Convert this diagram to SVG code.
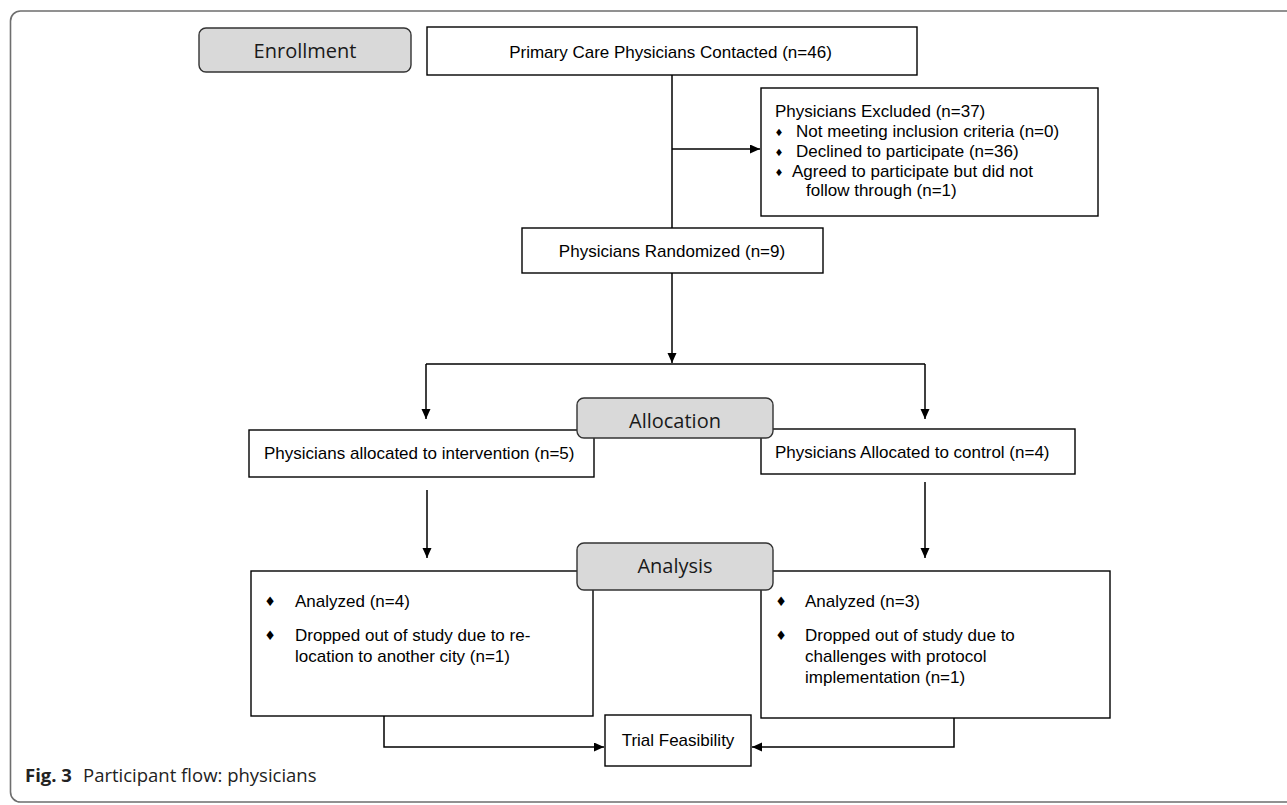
<svg xmlns="http://www.w3.org/2000/svg" width="1287" height="805" viewBox="0 0 1287 805">
<defs>
<marker id="ah" markerUnits="userSpaceOnUse" markerWidth="11" markerHeight="10" refX="10" refY="4.5" orient="auto">
<path d="M0,0 L10,4.5 L0,9 z" fill="#000"/>
</marker>
<style>
.box{fill:#fff;stroke:#000;stroke-width:1.4}
.stage{fill:#d9d9d9;stroke:#333;stroke-width:1.4}
.t{font-family:"Liberation Sans",Arial,sans-serif;font-size:17px;fill:#000}
.st{font-family:"Open Sans","Noto Sans",sans-serif;font-size:20px;fill:#1a1a1a;text-anchor:middle}
.b{font-family:"DejaVu Sans",sans-serif;fill:#000;text-anchor:middle}
.c{fill:none;stroke:#000;stroke-width:1.5}
.cap{font-family:"Open Sans","Noto Sans",sans-serif;font-size:18.5px;fill:#222}
</style>
</defs>
<rect x="10.5" y="11" width="1320" height="791" rx="10" fill="#fff" stroke="#6e6e6e" stroke-width="1.6"/>

<g id="connectors">
<path class="c" d="M672,75 V228"/>
<path class="c" d="M672,149 H760" marker-end="url(#ah)"/>
<path class="c" d="M672,273 V363" marker-end="url(#ah)"/>
<path class="c" d="M426,364 H925"/>
<path class="c" d="M426,364 V419" marker-end="url(#ah)"/>
<path class="c" d="M925,364 V419" marker-end="url(#ah)"/>
<path class="c" d="M427,490 V558" marker-end="url(#ah)"/>
<path class="c" d="M925,482 V558" marker-end="url(#ah)"/>
<path class="c" d="M384,716 V747 H604" marker-end="url(#ah)"/>
<path class="c" d="M954,718 V747 H752" marker-end="url(#ah)"/>
</g>

<g id="contacted">
<rect class="box" x="427" y="27" width="490" height="48"/>
<text class="t" x="670.5" y="58" text-anchor="middle">Primary Care Physicians Contacted (n=46)</text>
</g>

<g id="excluded">
<rect class="box" x="761" y="88" width="337" height="128"/>
<text class="t" x="775" y="117">Physicians Excluded (n=37)</text>
<text class="b" x="779" y="136" font-size="10">♦</text>
<text class="t" x="796" y="137">Not meeting inclusion criteria (n=0)</text>
<text class="b" x="779" y="156" font-size="10">♦</text>
<text class="t" x="796" y="157">Declined to participate (n=36)</text>
<text class="b" x="779" y="176" font-size="10">♦</text>
<text class="t" x="792" y="177">Agreed to participate but did not</text>
<text class="t" x="806" y="196">follow through (n=1)</text>
</g>

<g id="randomized">
<rect class="box" x="522" y="228" width="301" height="45"/>
<text class="t" x="672" y="257" text-anchor="middle">Physicians Randomized (n=9)</text>
</g>

<g id="intervention">
<rect class="box" x="249" y="430" width="345" height="47"/>
<text class="t" x="264" y="459">Physicians allocated to intervention (n=5)</text>
</g>

<g id="control">
<rect class="box" x="761" y="429" width="314" height="45"/>
<text class="t" x="775" y="458">Physicians Allocated to control (n=4)</text>
</g>

<g id="analysis-left">
<rect class="box" x="251" y="571" width="342" height="145"/>
<text class="b" x="270" y="606" font-size="13">♦</text>
<text class="t" x="295" y="607">Analyzed (n=4)</text>
<text class="b" x="270" y="640" font-size="13">♦</text>
<text class="t" x="295" y="641">Dropped out of study due to re-</text>
<text class="t" x="295" y="662">location to another city (n=1)</text>
</g>

<g id="analysis-right">
<rect class="box" x="761" y="571" width="349" height="147"/>
<text class="b" x="781" y="606" font-size="13">♦</text>
<text class="t" x="805" y="607">Analyzed (n=3)</text>
<text class="b" x="781" y="640" font-size="13">♦</text>
<text class="t" x="805" y="641">Dropped out of study due to</text>
<text class="t" x="805" y="662">challenges with protocol</text>
<text class="t" x="805" y="683">implementation (n=1)</text>
</g>

<g id="feasibility">
<rect class="box" x="605" y="715" width="146" height="51"/>
<text class="t" x="678" y="746" text-anchor="middle">Trial Feasibility</text>
</g>

<g id="stage-enrollment">
<rect class="stage" x="199" y="28" width="212" height="44" rx="7"/>
<text class="st" x="305" y="58">Enrollment</text>
</g>

<g id="stage-allocation">
<rect class="stage" x="577" y="398" width="196" height="40" rx="7"/>
<text class="st" x="675" y="428">Allocation</text>
</g>

<g id="stage-analysis">
<rect class="stage" x="577" y="543" width="196" height="47" rx="7"/>
<text class="st" x="675" y="573">Analysis</text>
</g>

<g id="caption">
<text class="cap" x="25" y="782"><tspan font-weight="bold">Fig. 3</tspan><tspan x="83">Participant flow: physicians</tspan></text>
</g>
</svg>
